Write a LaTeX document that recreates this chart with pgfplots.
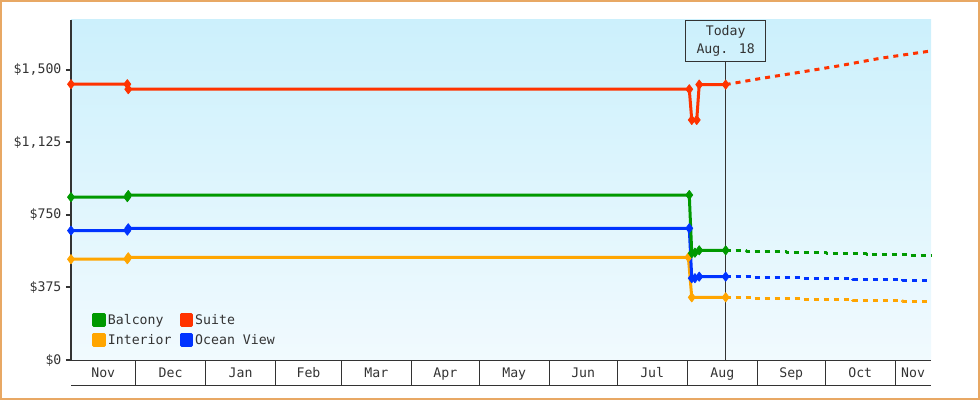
\documentclass[border=0pt]{standalone}
\usepackage{fontspec}
\setmainfont{DejaVu Sans Mono}
\usepackage{pgfplots}
\pgfplotsset{compat=1.18}

\definecolor{balcony}{RGB}{0,153,0}
\definecolor{suite}{RGB}{255,51,0}
\definecolor{interior}{RGB}{255,165,0}
\definecolor{ocean}{RGB}{0,51,255}
\definecolor{txt}{RGB}{51,51,51}
\definecolor{frame}{RGB}{232,168,100}
\definecolor{bgtop}{RGB}{204,240,252}
\definecolor{bgbot}{RGB}{241,250,254}

\begin{document}
\fontsize{13.2pt}{15pt}\selectfont
\begin{tikzpicture}[x=1pt,y=1pt]
\path[use as bounding box] (0,0) rectangle (980,400);
\draw[frame, line width=2pt] (1,1) rectangle (979,399);
\begin{axis}[
  at={(71pt,40pt)}, anchor=south west,
  scale only axis, width=860pt, height=340pt,
  xmin=1.48, xmax=381.8, ymin=0, ymax=1758,
  clip=false,
  axis lines=left, axis line style={-},
  x axis line style={txt, line width=1pt},
  y axis line style={txt, line width=2pt},
  axis background/.style={top color=bgtop, bottom color=bgbot},
  tick align=outside, major tick length=5pt,
  ytick={0,375,750,1125,1500},
  yticklabels={\$0,\$375,\$750,{\$1,125},{\$1,500}},
  ytick style={txt, line width=2pt},
  yticklabel style={text=txt},
  xtick={15.74,45.5,76.5,106.5,136.5,167,197.5,228,258.5,289.5,320,350.5,373.9},
  xticklabels={Nov,Dec,Jan,Feb,Mar,Apr,May,Jun,Jul,Aug,Sep,Oct,Nov},
  xtick style={draw=none},
  xticklabel style={text=txt, anchor=base, yshift=-12.3pt},
  extra x ticks={30,61,92,121,152,182,213,243,274,305,335,366},
  extra x tick labels={},
  extra x tick style={major tick length=25pt, xtick style={draw=txt, line width=1pt}},
  legend columns=2,
  legend cell align=left,
  legend style={at={(0.021,0.028)}, anchor=south west, draw=none, fill=none,
    text=txt, row sep=4pt,
    /tikz/every even column/.append style={column sep=6pt}},
  every axis plot/.append style={line width=3pt, line join=round},
  solidser/.style={mark=diamond*, mark size=4.6pt, mark options={solid, line width=0.8pt}},
  fcast/.style={dash pattern=on 5pt off 5pt, const plot},
  sq/.style={legend image code/.code={\fill[#1] (0pt,-5.35pt) rectangle (10.7pt,5.35pt);}},
]
% today marker
\node[draw=txt, line width=1pt, anchor=north, minimum width=80pt, minimum height=41pt,
  inner sep=0pt, align=center, text=txt, font=\fontsize{13.2pt}{17.3pt}\selectfont]
  (today) at (axis cs:291,1758) {Today\\Aug. 18};
\draw[txt, line width=1pt] (today.south) -- (axis cs:291,0);

% forecasts
\addplot[forget plot, suite, dash pattern=on 5pt off 5pt] coordinates {
  (291,1424) (306.2,1455) (323.9,1488) (341.6,1522) (359.3,1560) (381.8,1598)};
\addplot[forget plot, balcony, fcast] coordinates {
  (291,567) (300.3,562) (318,557) (335.7,552) (353.4,547) (371.8,541) (381.8,541)};
\addplot[forget plot, ocean, fcast] coordinates {
  (291,431) (303.1,426) (325.2,422) (347.3,417) (369.4,412) (381.8,412)};
\addplot[forget plot, interior, fcast] coordinates {
  (291,324) (303.1,319) (325.2,314) (347.3,309) (369.4,304) (381.8,304)};

% history
\addplot[forget plot, interior, solidser] coordinates {
  (1.48,521) (26.4,521) (26.8,531) (274.5,531) (276,324) (291,324)};
\addplot[forget plot, ocean, solidser] coordinates {
  (1.48,669) (26.4,669) (26.8,681) (274.9,681) (276,423) (277.4,423) (279.3,431) (291,431)};
\addplot[forget plot, balcony, solidser] coordinates {
  (1.48,842) (26.4,842) (26.8,853) (274.9,853) (276,552) (277.4,555) (279.3,567) (291,567)};
\addplot[forget plot, suite, solidser] coordinates {
  (1.48,1426) (26.4,1426) (26.8,1400) (274.9,1400) (276,1241) (278.2,1241) (279.3,1424) (291,1424)};

\addlegendimage{sq=balcony}\addlegendentry{Balcony}
\addlegendimage{sq=suite}\addlegendentry{Suite}
\addlegendimage{sq=interior}\addlegendentry{Interior}
\addlegendimage{sq=ocean}\addlegendentry{Ocean View}
\end{axis}
\draw[txt, line width=1pt] (71,15) -- (931,15);
\end{tikzpicture}
\end{document}
